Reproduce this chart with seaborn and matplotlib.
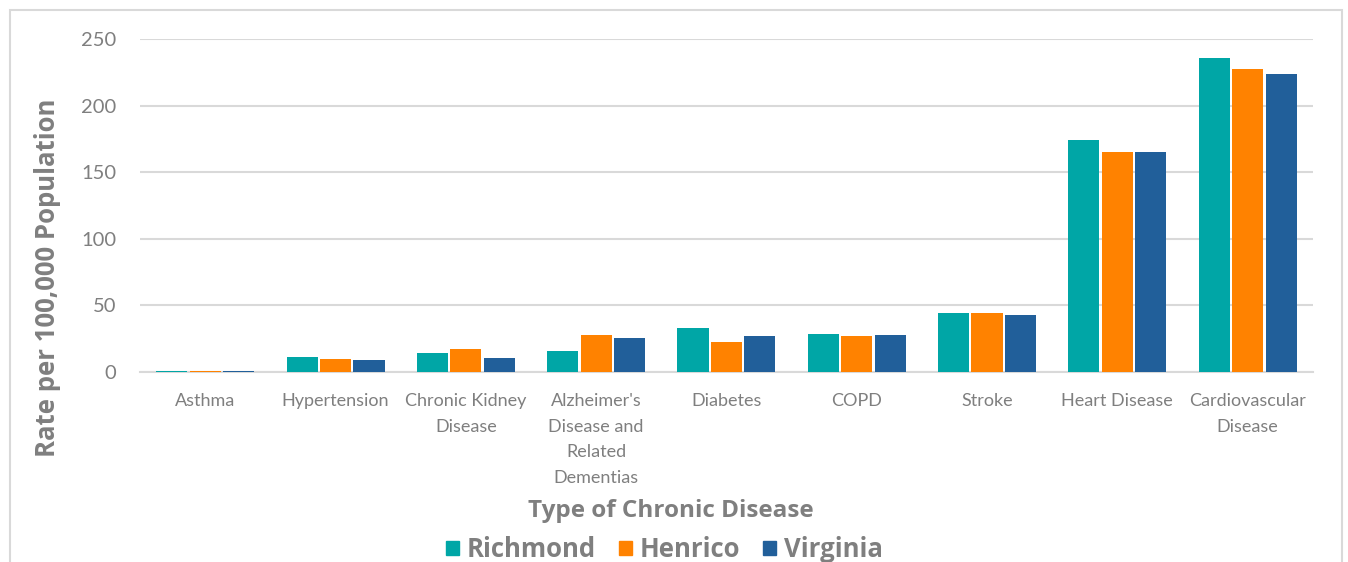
import pandas as pd
import matplotlib
matplotlib.use("Agg")
import matplotlib.pyplot as plt
from matplotlib.patches import Rectangle
import seaborn as sns

# Rates per 100,000 population
diseases = ["Asthma", "Hypertension", "Chronic Kidney\nDisease",
            "Alzheimer's\nDisease and\nRelated\nDementias", "Diabetes", "COPD",
            "Stroke", "Heart Disease", "Cardiovascular\nDisease"]
richmond = [1.0, 11.5, 14.5, 16.0, 33.0, 28.5, 44.0, 174.0, 236.0]
henrico = [1.0, 10.0, 17.5, 27.5, 22.5, 27.3, 44.0, 165.5, 227.5]
virginia = [0.5, 9.3, 10.8, 25.5, 27.3, 28.0, 43.0, 165.5, 224.0]
regions = ["Richmond", "Henrico", "Virginia"]
colors = ["#00A6A6", "#FF8200", "#215F9A"]

rows = []
for name, vals in zip(regions, [richmond, henrico, virginia]):
    for d, v in zip(diseases, vals):
        rows.append({"Disease": d, "Region": name, "Rate": v})
df = pd.DataFrame(rows)

sns.set_style("white")
plt.rcParams["font.family"] = ["Lato", "DejaVu Sans"]

fig = plt.figure(figsize=(13.48, 5.62), dpi=100)
ax = fig.add_axes([0.1039, 0.338, 0.8700, 0.5924])

sns.barplot(data=df, x="Disease", y="Rate", hue="Region", hue_order=regions,
            order=diseases, palette=colors, saturation=1, width=0.77, gap=0.07,
            ax=ax, linewidth=0, errorbar=None, legend=False, zorder=3)

ax.set_ylim(0, 250)
ax.set_xlim(-0.5, len(diseases) - 0.5)
ax.set_yticks([0, 50, 100, 150, 200, 250])
ax.yaxis.grid(True, color="#d9d9d9", linewidth=1.5)
ax.set_axisbelow(True)
for s in ["left", "right", "top"]:
    ax.spines[s].set_visible(False)
ax.spines["bottom"].set_color("#d9d9d9")
ax.spines["bottom"].set_linewidth(1.5)
ax.spines["bottom"].set_zorder(0.5)
ax.tick_params(axis="both", length=0, labelcolor="#7f7f7f")
ax.tick_params(axis="y", labelsize=14.5, pad=17)
ax.tick_params(axis="x", labelsize=13, pad=15)
ax.set_xticks(range(len(diseases)))
ax.set_xticklabels(diseases, linespacing=1.75)

title_font = dict(fontweight="bold", color="#7f7f7f",
                  family=["Open Sans", "DejaVu Sans"])
ax.set_xlabel("Type of Chronic Disease", fontsize=17.5, **title_font)
ax.xaxis.set_label_coords(0.4527, -0.38)
ax.set_ylabel("Rate per 100,000 Population", fontsize=18.5, **title_font)
ax.yaxis.set_label_coords(-0.0793, 0.283)
ax.yaxis.label.set_va("center")

handles = [Rectangle((0, 0), 1, 1, color=c) for c in colors]
fig.legend(handles, regions, loc="center", bbox_to_anchor=(0.493, 0.022),
           ncol=3, frameon=False, handlelength=0.5, handleheight=0.5,
           handletextpad=0.3, columnspacing=0.9,
           prop={"size": 18.5, "weight": "bold",
                 "family": ["Open Sans", "DejaVu Sans"]},
           labelcolor="#7f7f7f")

fig.patches.append(Rectangle((10 / 1348, -0.1), 1332 / 1348, 1 - 10 / 562 + 0.1,
                             transform=fig.transFigure, fill=False,
                             edgecolor="#d9d9d9", linewidth=1.5))

fig.savefig("out.png", dpi=100)
